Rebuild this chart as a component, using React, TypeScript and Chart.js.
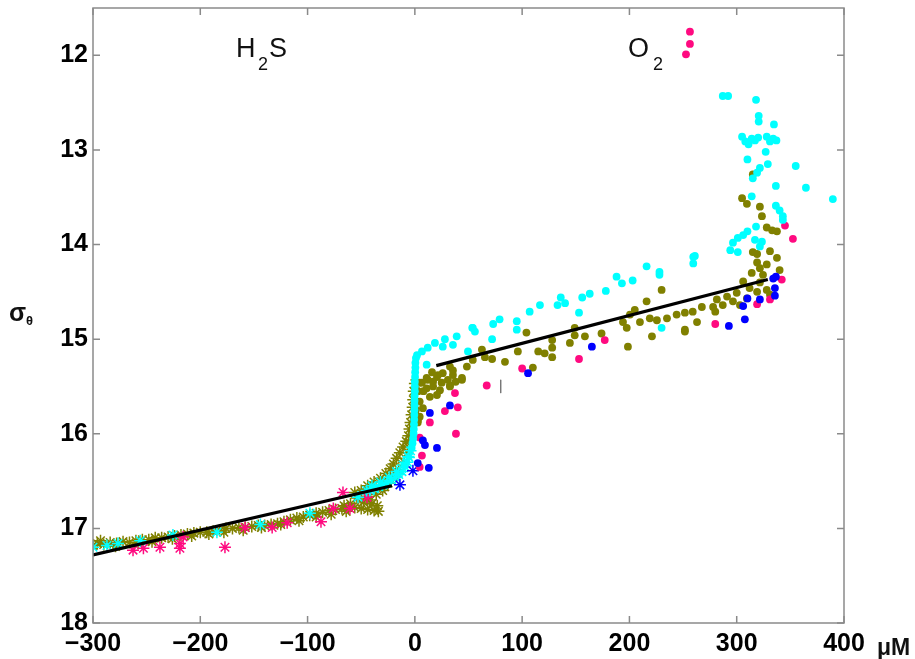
import React, { useEffect, useRef } from "react";
import { Chart, registerables } from "chart.js";
Chart.register(...registerables);

type P = [number, number];

const X_TICKS = [-300, -200, -100, 0, 100, 200, 300, 400];
const Y_TICKS = [12, 13, 14, 15, 16, 17, 18];

// H2S side (stars)
const oliveStars: P[] = [
  [-300,17.18],[-296,17.16],[-290,17.17],[-284,17.15],[-278,17.16],[-272,17.14],[-266,17.15],[-260,17.13],[-254,17.12],[-248,17.12],
  [-242,17.1],[-236,17.1],[-230,17.09],[-224,17.08],[-218,17.07],[-212,17.06],[-206,17.05],[-200,17.04],[-194,17.04],[-188,17.03],
  [-182,17.02],[-176,17.0],[-170,17.0],[-164,16.99],[-158,16.99],[-152,16.98],[-146,16.97],[-140,16.97],[-134,16.96],[-128,16.95],
  [-122,16.93],[-116,16.91],[-110,16.89],[-104,16.88],[-98,16.86],[-92,16.84],[-86,16.83],[-80,16.81],[-74,16.8],[-68,16.79],
  [-62,16.78],[-56,16.78],[-50,16.79],[-44,16.8],[-38,16.81],[-34,16.82],[-40,16.74],[-48,16.72],[-54,16.68],[-56,16.62],
  [-50,16.6],[-44,16.55],[-38,16.51],[-32,16.47],[-27,16.42],[-23,16.37],[-20,16.32],[-17,16.26],[-14,16.2],[-11,16.14],
  [-8,16.08],[-6,16.02],[-5,15.95],[-4,15.88],[-3,15.8],[-2,15.72],[-1.5,15.64],[-1,15.55],[0,15.47],[-60,16.74],
  [-66,16.76],[-35,16.76],[-45,16.66],[-30,16.6],[-25,16.52],[-20,16.45],[-15,16.38],[-10,16.3],[-7,16.2],[-5,16.1],
  [-293,17.13],[-279,17.19],[-258,17.16],[-245,17.14],[-226,17.11],[-208,17.08],[-192,17.06],[-178,17.04],[-160,17.02],[-143,16.99],
  [-125,16.96],[-108,16.92],[-92,16.88],[-78,16.85],[-64,16.82],[-42,16.7],[-36,16.64],[-28,16.56],[-22,16.49],[-16,16.42],
];
const pinkStars: P[] = [
  [-262.7,17.23],[-253,17.21],[-237.6,17.2],[-219,17.16],[-219,17.21],[-216,17.09],[-177,17.2],[-158.3,16.99],[-133,16.99],
  [-119,16.94],[-87.5,16.93],[-76,16.79],[-67,16.62],[-60.5,16.79],[-44.6,16.67],
];
const cyanStars: P[] = [
  [-300,17.2],[-287,17.18],[-276.7,17.16],[-256,17.13],[-225.5,17.07],[-184.5,17.04],[-144,16.96],[-97.8,16.84],[-53,16.67],
  [-45,16.6],[-42,16.6],[-38,16.58],[-34,16.56],[-30,16.54],[-26,16.52],[-22,16.49],[-18,16.46],[-15,16.43],[-12,16.4],[-9,16.35],
  [-7,16.3],[-5.5,16.25],[-40,16.55],[-32,16.51],[-24,16.46],[-17,16.4],[-11,16.33],[-6,16.24],[-4,16.18],
];
const blueStars: P[] = [[-13.9,16.54],[-1.8,16.39]];

// O2 side (dots)
const oliveDots: P[] = [
  [305,13.51],[309.5,13.57],[321.6,13.6],[323.5,13.7],[328,13.82],[333,13.85],[337.5,13.86],[315,13.26],[315,14.08],[331,14.07],
  [319,14.1],[337.5,14.14],[319,14.19],[328,14.21],[321.6,14.25],[340,14.27],[314,14.3],[324.5,14.32],[306,14.39],[321.6,14.4],
  [312,14.46],[300,14.51],[319,14.5],[291,14.55],[281.5,14.58],[309.5,14.57],[296.5,14.6],[287,14.64],[278,14.66],[280,14.71],
  [267.5,14.66],[259,14.71],[251.7,14.72],[263,14.82],[251.7,14.9],[303,14.64],[328,14.48],[331,14.53],
  [230,14.48],[216,14.6],[205,14.69],[200.5,14.74],[194,14.82],[197.5,14.88],[209.8,14.82],[219,14.78],[225.6,14.8],[235,14.78],
  [244,14.74],[251.7,14.92],[221,14.97],[198.6,15.08],[174,14.94],[158.5,14.97],[149,14.96],[149,14.88],[144.5,15.04],[128,15.01],
  [128,15.09],[128,15.19],[121,15.15],[115,15.13],[104,14.93],[96,15.13],[110,15.3],[84,15.24],[72,15.21],[65.3,15.19],
  [62.5,15.11],[54,15.22],[48.5,15.29],[43.9,15.41],[35.5,15.33],[32.7,15.29],[26,15.36],[20.6,15.4],[16,15.35],[11,15.41],
  [4.5,15.46],[17,15.45],[32.7,15.49],[6.6,15.46],[11,15.52],[20.6,15.59],[14,15.61],[4.5,15.66],[7.5,15.73],[4.5,15.82],
  [2.7,15.88],[30.8,15.43],[35.5,15.38],[43.9,15.43],[32.7,15.5],[23.4,15.54],[17,15.5],[12,15.43],[21.5,15.38],[2.8,15.86],
  [0.9,15.75],[8,15.55],[25,15.46],[38,15.45],[3,15.55],
];
const pinkDots: P[] = [
  [256.4,11.75],[256.4,11.88],[252.7,11.99],[345,13.8],[352.4,13.94],[342,14.37],[331,14.58],[319,14.63],[280,14.84],
  [177,15.01],[153,15.21],[100,15.31],[67,15.49],[37.4,15.57],[28,15.76],[40,15.72],[14,15.88],[38.3,16.0],[6.6,16.23],
  [4.5,16.35],[4.5,16.04],
];
const blueDots: P[] = [
  [14,15.78],[32.7,15.7],[7.5,16.07],[9.4,16.12],[20.6,16.15],[2.7,16.31],[13,16.36],[165,15.08],[105.5,15.36],
  [334,14.36],[336.5,14.34],[335.6,14.46],[335.6,14.54],[321.6,14.58],[310,14.57],[306,14.65],[307.6,14.79],[292.7,14.86],
];
const cyanDots: P[] = [
  [287,12.43],[292,12.43],[318,12.47],[320.5,12.64],[320.5,12.7],[334.7,12.73],[305,12.86],[308,12.91],[311,12.94],[314,12.88],
  [317,12.9],[320,12.87],[328,12.86],[331,12.91],[334,12.88],[337,12.9],[327,13.02],[310,13.1],[329,13.15],[321.6,13.19],
  [319,13.24],[315,13.3],[355,13.17],[336.5,13.38],[364.5,13.4],[389.6,13.52],[314,13.49],[336.5,13.59],[340,13.64],[343,13.7],
  [343,13.74],[318,13.81],[310,13.86],[306,13.9],[301,13.93],[296.5,13.98],[294,14.06],[317,13.95],[323.5,13.97],[301,14.08],
  [321.6,14.02],[261,14.12],[259.5,14.13],[259.5,14.2],[216,14.23],[228,14.29],[228,14.32],[188,14.34],[193,14.41],[203,14.38],
  [178,14.49],[163,14.52],[156,14.56],[136,14.56],[140,14.62],[133,14.64],[153,14.72],[116.6,14.64],[107,14.71],[95,14.81],
  [79,14.79],[73,14.84],[54,14.88],[95,14.9],[72,15.0],[56,14.92],[53.5,14.88],[39,14.97],[35.5,15.06],[49.5,15.13],
  [28,15.0],[26,15.08],[18.7,15.04],[12,15.09],[6.6,15.13],[2,15.17],[11,15.27],[230,14.88],
  [1,15.2],[0.5,15.25],[0.5,15.3],[0.3,15.35],[0.2,15.4],[0,15.45],[0,15.5],[0,15.55],[-0.2,15.6],[-0.3,15.65],
  [-0.3,15.7],[-0.4,15.75],[-0.5,15.8],[-0.6,15.85],[-0.8,15.9],[-1,15.95],[-1.2,16.0],[-1.6,16.05],[-2.2,16.1],[-3,16.15],
];

const FIT_DEEP: P[] = [[-300,17.28],[-21.3,16.55]];
const FIT_UPPER: P[] = [[20,15.28],[329,14.37]];
const MARK: P[] = [[80,15.43],[80,15.57]];

const toXY = (a: P[]) => a.map(([x, y]) => ({ x, y }));

const OLIVE = "#808000";
const PINK = "#ff0a80";
const CYAN = "#00ffff";
const BLUE = "#0000ff";
const FONT = '"Liberation Sans", Arial, sans-serif';

const framePlugin = {
  id: "frame",
  afterDraw(chart: any) {
    const { ctx, chartArea: a, scales } = chart;
    const xs = scales.x, ys = scales.y;
    ctx.save();
    ctx.strokeStyle = "#8a8a8a";
    ctx.lineWidth = 1.5;
    ctx.strokeRect(a.left, a.top, a.right - a.left, a.bottom - a.top);
    const L = 7;
    ctx.beginPath();
    X_TICKS.forEach((v) => {
      const px = xs.getPixelForValue(v);
      ctx.moveTo(px, a.bottom); ctx.lineTo(px, a.bottom - L);
      ctx.moveTo(px, a.top); ctx.lineTo(px, a.top + L);
    });
    Y_TICKS.forEach((v) => {
      const py = ys.getPixelForValue(v);
      ctx.moveTo(a.left, py); ctx.lineTo(a.left + L, py);
      ctx.moveTo(a.right, py); ctx.lineTo(a.right - L, py);
    });
    ctx.stroke();

    ctx.fillStyle = "#111";
    ctx.textBaseline = "alphabetic";
    ctx.textAlign = "left";
    // H2S
    ctx.font = `27px ${FONT}`;
    ctx.fillText("H", 236, 57);
    ctx.font = `18px ${FONT}`;
    ctx.fillText("2", 258, 70);
    ctx.font = `27px ${FONT}`;
    ctx.fillText("S", 269, 57);
    // O2
    ctx.fillText("O", 628, 57);
    ctx.font = `18px ${FONT}`;
    ctx.fillText("2", 653, 70);
    // sigma theta
    ctx.font = `bold 25px ${FONT}`;
    ctx.fillText("σ", 9, 321);
    ctx.font = `bold 13px ${FONT}`;
    ctx.fillText("θ", 26, 325);
    // uM
    ctx.font = `bold 23px ${FONT}`;
    ctx.fillText("μM", 877, 655);
    ctx.restore();
  },
};

export default function App() {
  const ref = useRef<HTMLCanvasElement | null>(null);
  useEffect(() => {
    if (!ref.current) return;
    const dotDs = (data: P[], color: string, order: number) => ({
      type: "scatter" as const,
      data: toXY(data),
      pointStyle: "circle",
      pointRadius: 3.9,
      backgroundColor: color,
      borderColor: color,
      borderWidth: 0,
      order,
    });
    const starDs = (data: P[], color: string, order: number) => ({
      type: "scatter" as const,
      data: toXY(data),
      pointStyle: "star",
      pointRadius: 6,
      backgroundColor: color,
      borderColor: color,
      borderWidth: 1.5,
      order,
    });
    const lineDs = (data: P[], color: string, w: number, order: number) => ({
      type: "line" as const,
      data: toXY(data),
      showLine: true,
      pointRadius: 0,
      borderColor: color,
      borderWidth: w,
      fill: false,
      order,
    });
    const chart = new Chart(ref.current, {
      type: "scatter",
      data: {
        datasets: [
          lineDs(FIT_DEEP, "#000", 3.2, 0),
          lineDs(FIT_UPPER, "#000", 3.2, 0),
          lineDs(MARK, "#777", 1, 1),
          dotDs(cyanDots, CYAN, 2),
          dotDs(blueDots, BLUE, 3),
          dotDs(pinkDots, PINK, 4),
          dotDs(oliveDots, OLIVE, 5),
          starDs(blueStars, BLUE, 6),
          starDs(cyanStars, CYAN, 7),
          starDs(pinkStars, PINK, 8),
          starDs(oliveStars, OLIVE, 9),
        ] as any,
      },
      options: {
        animation: false,
        responsive: false,
        maintainAspectRatio: false,
        layout: { padding: { left: 0, top: 8, right: 71, bottom: 0 } },
        plugins: { legend: { display: false }, tooltip: { enabled: false } },
        scales: {
          x: {
            type: "linear",
            min: -300,
            max: 400,
            grid: { display: false, drawTicks: false },
            border: { display: false },
            afterBuildTicks: (s: any) => { s.ticks = X_TICKS.map((v) => ({ value: v })); },
            afterFit: (s: any) => { s.height = 36; s.paddingLeft = 0; s.paddingRight = 0; },
            ticks: {
              padding: 6,
              color: "#000",
              maxRotation: 0,
              autoSkip: false,
              font: { family: FONT, size: 25, weight: "bold" },
              callback: (v: any) => (Number(v) < 0 ? "\u2212" + Math.abs(Number(v)) : String(v)),
            },
          },
          y: {
            type: "linear",
            min: 11.5,
            max: 18,
            reverse: true,
            grid: { display: false, drawTicks: false },
            border: { display: false },
            afterBuildTicks: (s: any) => { s.ticks = Y_TICKS.map((v) => ({ value: v })); },
            afterFit: (s: any) => { s.width = 93; s.paddingTop = 0; s.paddingBottom = 0; },
            ticks: {
              padding: 5,
              color: "#000",
              autoSkip: false,
              font: { family: FONT, size: 25, weight: "bold" },
              callback: (v: any) => String(v),
            },
          },
        },
      },
      plugins: [framePlugin],
    });
    return () => chart.destroy();
  }, []);
  return (
    <div style={{ position: "absolute", left: 0, top: 0, width: 915, height: 659, background: "#fff" }}>
      <canvas ref={ref} width={915} height={659} style={{ display: "block" }} />
    </div>
  );
}
